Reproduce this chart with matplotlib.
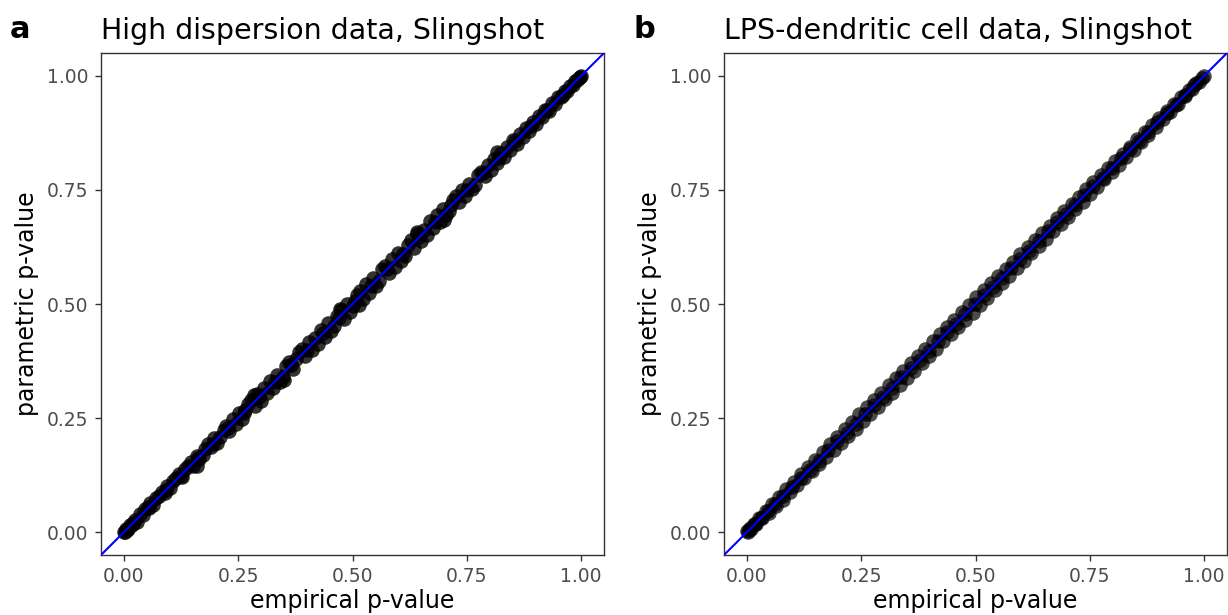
import numpy as np
import matplotlib
matplotlib.use("Agg")
import matplotlib.pyplot as plt

# panel a: High dispersion data
emp_a = [0.000, 0.002, 0.004, 0.007, 0.010, 0.013, 0.018, 0.024, 0.029, 0.035, 0.041, 0.047, 0.052, 0.058,
         0.064, 0.071, 0.077, 0.083, 0.089, 0.095, 0.101, 0.108, 0.114, 0.121, 0.127, 0.133, 0.140, 0.146,
         0.152, 0.159, 0.165, 0.172, 0.178, 0.185, 0.191, 0.198, 0.204, 0.211, 0.218, 0.224, 0.231, 0.238,
         0.245, 0.251, 0.258, 0.265, 0.272, 0.279, 0.286, 0.292, 0.299, 0.306, 0.313, 0.320, 0.327, 0.334,
         0.341, 0.348, 0.355, 0.362, 0.369, 0.376, 0.383, 0.390, 0.397, 0.404, 0.411, 0.418, 0.425, 0.432,
         0.439, 0.446, 0.453, 0.460, 0.467, 0.474, 0.481, 0.488, 0.495, 0.502, 0.509, 0.516, 0.523, 0.530,
         0.537, 0.544, 0.551, 0.558, 0.565, 0.572, 0.579, 0.586, 0.593, 0.600, 0.607, 0.614, 0.621, 0.628,
         0.635, 0.642, 0.649, 0.656, 0.663, 0.670, 0.677, 0.684, 0.691, 0.698, 0.705, 0.712, 0.719, 0.726,
         0.733, 0.740, 0.747, 0.754, 0.761, 0.768, 0.775, 0.782, 0.789, 0.796, 0.803, 0.810, 0.817, 0.824,
         0.831, 0.838, 0.845, 0.852, 0.859, 0.866, 0.873, 0.880, 0.887, 0.894, 0.901, 0.908, 0.915, 0.922,
         0.929, 0.936, 0.943, 0.950, 0.957, 0.964, 0.970, 0.976, 0.982, 0.987, 0.991, 0.995, 0.998, 1.000,
         0.160, 0.285, 0.350, 0.472, 0.515, 0.640, 0.700, 0.815,
         0.020, 0.055, 0.092, 0.124, 0.162, 0.195, 0.228, 0.262, 0.296, 0.331, 0.366, 0.400, 0.436, 0.470,
         0.505, 0.540, 0.575, 0.610, 0.646, 0.680, 0.716, 0.750, 0.786, 0.820, 0.856, 0.890, 0.925, 0.960]
par_a = [0.001, 0.000, 0.006, 0.005, 0.008, 0.016, 0.015, 0.027, 0.022, 0.040, 0.038, 0.050, 0.055, 0.064,
         0.060, 0.075, 0.079, 0.089, 0.085, 0.101, 0.097, 0.112, 0.118, 0.127, 0.121, 0.138, 0.144, 0.153,
         0.146, 0.166, 0.160, 0.170, 0.182, 0.193, 0.186, 0.206, 0.196, 0.208, 0.223, 0.233, 0.222, 0.247,
         0.236, 0.261, 0.249, 0.268, 0.281, 0.289, 0.276, 0.302, 0.288, 0.317, 0.306, 0.331, 0.316, 0.345,
         0.330, 0.341, 0.364, 0.374, 0.357, 0.380, 0.394, 0.402, 0.385, 0.416, 0.399, 0.426, 0.413, 0.444,
         0.427, 0.459, 0.441, 0.452, 0.474, 0.487, 0.468, 0.500, 0.483, 0.496, 0.520, 0.528, 0.510, 0.543,
         0.524, 0.556, 0.539, 0.550, 0.576, 0.584, 0.567, 0.598, 0.581, 0.612, 0.595, 0.606, 0.630, 0.640,
         0.623, 0.654, 0.637, 0.662, 0.652, 0.681, 0.666, 0.695, 0.680, 0.708, 0.694, 0.704, 0.727, 0.736,
         0.723, 0.749, 0.737, 0.763, 0.751, 0.760, 0.782, 0.790, 0.780, 0.804, 0.794, 0.818, 0.808, 0.831,
         0.823, 0.845, 0.837, 0.859, 0.851, 0.872, 0.866, 0.886, 0.880, 0.899, 0.895, 0.913, 0.909, 0.926,
         0.924, 0.940, 0.938, 0.953, 0.953, 0.967, 0.967, 0.978, 0.980, 0.989, 0.990, 0.996, 0.997, 0.999,
         0.146, 0.301, 0.334, 0.490, 0.498, 0.657, 0.684, 0.832,
         0.021, 0.054, 0.093, 0.123, 0.163, 0.194, 0.229, 0.261, 0.297, 0.330, 0.367, 0.399, 0.437, 0.469,
         0.506, 0.539, 0.576, 0.609, 0.647, 0.679, 0.717, 0.749, 0.787, 0.819, 0.857, 0.889, 0.926, 0.959]

# panel b: LPS-dendritic cell data
emp_b = [0.000, 0.003, 0.006, 0.010, 0.015, 0.021, 0.027, 0.034, 0.041, 0.048, 0.056, 0.063, 0.071, 0.078,
         0.086, 0.094, 0.102, 0.110, 0.118, 0.126, 0.134, 0.142, 0.150, 0.158, 0.166, 0.174, 0.182, 0.190,
         0.198, 0.206, 0.214, 0.222, 0.230, 0.238, 0.246, 0.254, 0.262, 0.270, 0.278, 0.286, 0.294, 0.302,
         0.310, 0.318, 0.326, 0.334, 0.342, 0.350, 0.358, 0.366, 0.374, 0.382, 0.390, 0.398, 0.406, 0.414,
         0.422, 0.430, 0.438, 0.446, 0.454, 0.462, 0.470, 0.478, 0.486, 0.494, 0.502, 0.510, 0.518, 0.526,
         0.534, 0.542, 0.550, 0.558, 0.566, 0.574, 0.582, 0.590, 0.598, 0.606, 0.614, 0.622, 0.630, 0.638,
         0.646, 0.654, 0.662, 0.670, 0.678, 0.686, 0.694, 0.702, 0.710, 0.718, 0.726, 0.734, 0.742, 0.750,
         0.758, 0.766, 0.774, 0.782, 0.790, 0.798, 0.806, 0.814, 0.822, 0.830, 0.838, 0.846, 0.854, 0.862,
         0.870, 0.878, 0.886, 0.894, 0.902, 0.910, 0.918, 0.926, 0.934, 0.942, 0.950, 0.958, 0.966, 0.974,
         0.982, 0.989, 0.995, 1.000,
         0.004, 0.030, 0.062, 0.098, 0.138, 0.178, 0.218, 0.258, 0.298, 0.338, 0.378, 0.418, 0.458, 0.498,
         0.538, 0.578, 0.618, 0.658, 0.698, 0.738, 0.778, 0.818, 0.858, 0.898, 0.938, 0.978,
         0.018, 0.046, 0.080, 0.118, 0.158, 0.198, 0.238, 0.278, 0.318, 0.358, 0.398, 0.438, 0.478, 0.518,
         0.558, 0.598, 0.638, 0.678, 0.718, 0.758, 0.798, 0.838, 0.878, 0.918, 0.958]
par_b = [0.002, 0.001, 0.009, 0.007, 0.019, 0.017, 0.032, 0.030, 0.046, 0.042, 0.062, 0.058, 0.078, 0.071,
         0.094, 0.087, 0.110, 0.103, 0.127, 0.118, 0.143, 0.134, 0.159, 0.150, 0.176, 0.165, 0.193, 0.180,
         0.209, 0.196, 0.226, 0.211, 0.242, 0.227, 0.258, 0.243, 0.274, 0.259, 0.290, 0.275, 0.305, 0.291,
         0.322, 0.306, 0.338, 0.322, 0.354, 0.338, 0.370, 0.353, 0.386, 0.370, 0.402, 0.385, 0.418, 0.401,
         0.434, 0.418, 0.450, 0.434, 0.466, 0.450, 0.482, 0.466, 0.498, 0.481, 0.515, 0.498, 0.530, 0.514,
         0.546, 0.530, 0.561, 0.546, 0.577, 0.562, 0.593, 0.578, 0.609, 0.594, 0.625, 0.611, 0.641, 0.627,
         0.656, 0.643, 0.672, 0.659, 0.688, 0.675, 0.704, 0.691, 0.719, 0.708, 0.735, 0.724, 0.751, 0.740,
         0.767, 0.756, 0.782, 0.773, 0.798, 0.789, 0.814, 0.805, 0.829, 0.822, 0.845, 0.838, 0.861, 0.855,
         0.876, 0.871, 0.892, 0.888, 0.907, 0.905, 0.922, 0.921, 0.938, 0.938, 0.953, 0.955, 0.969, 0.972,
         0.984, 0.987, 0.996, 0.999,
         0.004, 0.031, 0.061, 0.099, 0.137, 0.179, 0.217, 0.259, 0.297, 0.339, 0.377, 0.419, 0.457, 0.499,
         0.537, 0.579, 0.617, 0.659, 0.697, 0.739, 0.777, 0.819, 0.857, 0.899, 0.937, 0.979,
         0.017, 0.047, 0.079, 0.119, 0.157, 0.199, 0.237, 0.279, 0.317, 0.359, 0.397, 0.439, 0.477, 0.519,
         0.557, 0.599, 0.637, 0.679, 0.717, 0.759, 0.797, 0.839, 0.877, 0.919, 0.957]

titles = ["High dispersion data, Slingshot", "LPS-dendritic cell data, Slingshot"]
letters = ["a", "b"]
ticks = [0.0, 0.25, 0.5, 0.75, 1.0]
tick_labels = ["0.00", "0.25", "0.50", "0.75", "1.00"]

plt.rcParams['font.family'] = 'DejaVu Sans'

fig = plt.figure(figsize=(12.28, 6.15), dpi=100)
lefts = [101 / 1228, 724 / 1228]
alphas = [0.8, 0.7]

for i, (ex, px) in enumerate([(emp_a, par_a), (emp_b, par_b)]):
    ax = fig.add_axes([lefts[i], 60 / 615, 503 / 1228, 502 / 615])
    ax.scatter(ex, px, s=110, c='black', alpha=alphas[i], linewidths=0, zorder=2)
    ax.axline((0, 0), slope=1, color='#0000FF', linewidth=1.5, zorder=3)
    ax.set_xlim(-0.05, 1.05)
    ax.set_ylim(-0.05, 1.05)
    ax.set_xticks(ticks)
    ax.set_xticklabels(tick_labels)
    ax.set_yticks(ticks)
    ax.set_yticklabels(tick_labels)
    ax.tick_params(labelsize=13.5, labelcolor='#4D4D4D', color='#333333', length=4, width=1, pad=5)
    for sp in ax.spines.values():
        sp.set_color('#333333')
        sp.set_linewidth(1)
    ax.set_title(titles[i], loc='left', fontsize=20.5, pad=10)
    ax.set_xlabel('empirical p-value', fontsize=17, labelpad=2)
    ax.set_ylabel('parametric p-value', fontsize=17, labelpad=6)
    fig.text(lefts[i] - 91 / 1228, 1 - 38 / 615, letters[i], fontsize=22, fontweight='bold',
             va='baseline', ha='left')

fig.savefig('out.png', dpi=100)
